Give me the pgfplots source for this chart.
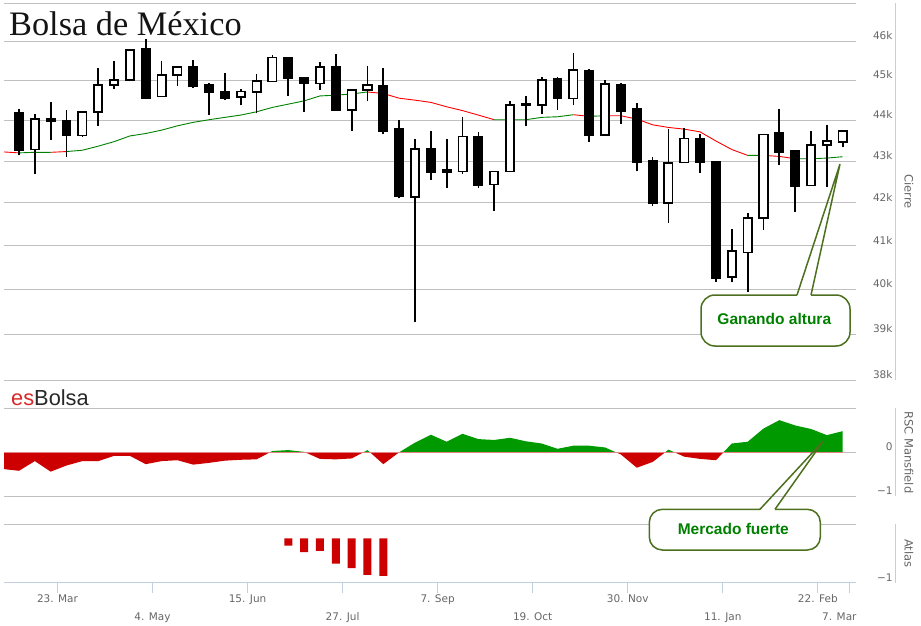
\documentclass[border=0pt]{standalone}
\usepackage{fontspec}
\setmainfont{DejaVu Sans}
\newfontfamily\titlefont{Liberation Serif}
\newfontfamily\arialfont{Liberation Sans}
\usepackage{pgfplots}
\usepackage{pgfplotstable}
\pgfplotsset{compat=1.18}

\definecolor{gridc}{RGB}{192,192,192}
\definecolor{axisc}{RGB}{192,208,224}
\definecolor{labc}{RGB}{102,102,102}
\definecolor{magreen}{RGB}{0,128,0}
\definecolor{mared}{RGB}{255,0,0}
\definecolor{rscgreen}{RGB}{0,153,0}
\definecolor{rscred}{RGB}{204,0,0}
\definecolor{zeroline}{RGB}{226,130,130}
\definecolor{boxc}{RGB}{76,112,30}
\definecolor{txtgreen}{RGB}{0,128,0}
\definecolor{esred}{RGB}{216,40,40}
\definecolor{bolsagray}{RGB}{40,40,40}

% weekly candles: index, open, high, low, close, type (b = falling, w = rising)
\pgfplotstableread{
i o h l c t
0 44200 44282 43140 43257 b
1 43283 44150 42690 44025 w
2 44030 44447 43515 43990 b
3 44000 44250 43100 43640 b
4 43625 44215 43600 44215 w
5 44200 45328 43865 44893 w
6 44876 45491 44794 45018 w
7 45018 45800 44975 45783 w
8 45801 46077 44550 44561 b
9 44596 45491 44590 45137 w
10 45129 45344 44859 45344 w
11 45344 45535 44819 44859 b
12 44893 44943 44132 44695 b
13 44720 45199 44504 44561 b
14 44586 44794 44375 44720 w
15 44710 45173 44174 44993 w
16 44975 45646 44970 45587 w
17 45587 45590 44610 45059 b
18 45059 45060 44215 44918 b
19 44926 45465 44769 45344 w
20 45354 45672 44240 44250 b
21 44250 44780 43740 44769 w
22 44752 45380 44471 44883 w
23 44868 45328 43675 43740 b
24 43800 44000 42110 42157 b
25 42143 43533 39264 43300 w
26 43308 43725 42555 42738 b
27 42780 43533 42348 42730 b
28 42752 44075 42698 43600 w
29 43600 43715 42357 42419 b
30 42436 42752 41814 42752 w
31 42752 44471 42740 44390 w
32 44370 44620 43850 44410 w
33 44382 45092 44150 45007 w
34 45042 45092 44265 44546 b
35 44546 45698 44375 45258 w
36 45258 45302 43467 43633 b
37 43633 45000 43620 44918 w
38 44901 44926 43908 44240 b
39 44280 44425 42752 42967 b
40 43000 43095 41921 42000 b
41 42000 43783 41535 42952 w
42 42967 43800 42960 43550 w
43 43550 43658 42714 42967 b
44 42983 42990 40173 40264 b
45 40286 41395 40159 40877 w
46 40841 41751 39945 41651 w
47 41635 43660 41363 43650 w
48 43683 44283 42895 43225 b
49 43240 43250 41781 42395 b
50 42412 43725 42400 43400 w
51 43390 43883 42381 43500 w
52 43475 43745 43340 43740 w
}\candles

\pgfplotstableread{
i v
17 -0.167
18 -0.309
19 -0.286
20 -0.572
21 -0.669
22 -0.826
23 -0.844
}\atlas

\pgfplotsset{
  panel/.style={
    scale only axis, width=852pt, xmin=-0.947, xmax=52.84,
    axis line style={draw=none},
    ymajorgrids, grid style={draw=gridc, line width=1pt},
    ytick style={draw=none},
    yticklabel pos=right,
    yticklabel style={anchor=east, inner sep=0pt, xshift=36.7pt, yshift=5.5pt,
      font=\fontsize{10.5}{12}\selectfont, text=labc},
    xtick=\empty,
  },
  wick/.style={black, line width=1.7pt},
  bodyb/.style={draw=black, fill=black, line width=1.6pt},
  bodyw/.style={draw=black, fill=white, line width=1.8pt},
}

\begin{document}
\begin{tikzpicture}
\useasboundingbox (0,0) rectangle (921pt,625pt);

% ---------------- price panel (logarithmic price scale) ----------------
\begin{axis}[panel, at={(4pt,244.6pt)}, anchor=south west, height=377.1pt,
  y filter/.expression={1000*ln(y/38000)},
  ymin=0, ymax=212.561,
  ytick={0,25.975,51.293,75.986,100.083,123.614,146.603,169.076,191.055,212.561},
  yticklabels={38k,39k,40k,41k,42k,43k,44k,45k,46k,{}},
  unbounded coords=jump]
% moving average, red parts
\addplot[mared, line width=0.9pt] coordinates {
(-1,43225) (0,43200) (0,nan)
(2,43215) (3,43233) (3,nan)
(22,44710) (23,44670) (24,44553) (25,44504) (26,44447) (27,44337) (28,44243) (29,44131) (30,44015) (30,nan)
(35,44139) (36,44100) (36,nan)
(37,44114) (38,44114) (39,44032) (40,43890) (41,43825) (42,43783) (43,43715) (44,43490) (45,43283) (46,43140) (46,nan)
(47,43140) (48,43115) (49,43058)
};
% moving average, green parts
\addplot[magreen, line width=0.9pt] coordinates {
(0,43200) (1,43215) (2,43215) (2,nan)
(3,43233) (4,43265) (5,43365) (6,43475) (7,43615) (8,43675) (9,43758) (10,43865) (11,43950) (12,44015) (13,44074) (14,44131) (15,44213) (16,44322) (17,44404) (18,44486) (19,44610) (20,44628) (21,44660) (22,44710) (22,nan)
(30,44015) (31,44015) (32,44015) (33,44074) (34,44089) (35,44139) (35,nan)
(36,44100) (37,44114) (37,nan)
(46,43140) (47,43140) (47,nan)
(49,43058) (50,43058) (51,43075) (52,43108)
};
% candles
\pgfplotstablegetrowsof{\candles}
\pgfmathtruncatemacro\lastrow{\pgfplotsretval-1}
\pgfplotsforeachungrouped \rr in {0,...,\lastrow}{%
  \pgfplotstablegetelem{\rr}{i}\of\candles\let\cndI\pgfplotsretval
  \pgfplotstablegetelem{\rr}{o}\of\candles\let\cndO\pgfplotsretval
  \pgfplotstablegetelem{\rr}{h}\of\candles\let\cndH\pgfplotsretval
  \pgfplotstablegetelem{\rr}{l}\of\candles\let\cndL\pgfplotsretval
  \pgfplotstablegetelem{\rr}{c}\of\candles\let\cndC\pgfplotsretval
  \pgfplotstablegetelem{\rr}{t}\of\candles\let\cndT\pgfplotsretval
  \pgfmathsetmacro\cndXl{\cndI-0.26}%
  \pgfmathsetmacro\cndXr{\cndI+0.26}%
  \edef\tmp{\noexpand\addplot[wick] coordinates {(\cndI,\cndL) (\cndI,\cndH)};
    \noexpand\addplot[body\cndT] coordinates {(\cndXl,\cndO) (\cndXr,\cndO) (\cndXr,\cndC) (\cndXl,\cndC)} -- cycle;}%
  \tmp
}
\end{axis}

% ---------------- RSC Mansfield panel ----------------
\begin{axis}[panel, at={(4pt,128.7pt)}, anchor=south west, height=88pt,
  ymin=-1, ymax=1, ytick={-1,0,1}, yticklabels={−1,0,{}}]
\addplot[fill=rscred, draw=none] coordinates {
(-1,0) (-1,-0.38) (0,-0.42) (1,-0.20) (2,-0.44) (3,-0.30) (4,-0.20) (5,-0.20) (6,-0.08) (7,-0.08) (8,-0.27) (9,-0.20) (10,-0.18) (11,-0.28) (12,-0.24) (13,-0.19) (14,-0.17) (15,-0.16) (15.84,0) (18.06,0) (19,-0.15) (20,-0.16) (21,-0.14) (21.74,0) (22.16,0) (23,-0.27) (24,0) (37.69,0) (38,-0.05) (39,-0.35) (40,-0.22) (40.79,0) (41.38,0) (42,-0.10) (43,-0.15) (44,-0.18) (44.47,0) (52,0)
} -- cycle;
\addplot[fill=rscgreen, draw=none] coordinates {
(15.84,0) (16,0.03) (17,0.05) (18,0.01) (18.06,0) (21.74,0) (22,0.05) (22.16,0) (24,0) (25,0.22) (26,0.40) (27,0.24) (28,0.42) (29,0.30) (30,0.28) (31,0.33) (32,0.25) (33,0.20) (34,0.08) (35,0.15) (36,0.15) (37,0.11) (37.69,0) (40.79,0) (41,0.06) (41.38,0) (44.47,0) (45,0.20) (46,0.24) (47,0.54) (48,0.73) (49,0.61) (50,0.53) (51,0.39) (52,0.48) (52,0)
} -- cycle;
\addplot[zeroline, line width=1.2pt] coordinates {(-1,0) (52,0)};
\end{axis}

% ---------------- Atlas panel ----------------
\begin{axis}[panel, at={(4pt,42.3pt)}, anchor=south west, height=58.4pt,
  ymin=-1, ymax=0.315, ytick={-1,0.315}, yticklabels={−1,{}},
  xtick={2.43,14.43,26.43,38.43,50.43},
  xticklabels={23. Mar,15. Jun,7. Sep,30. Nov,22. Feb},
  extra x ticks={8.43,20.43,32.43,44.43,52.43},
  extra x tick labels={4. May,27. Jul,19. Oct,11. Jan,\makebox[0pt][r]{7. Mar\hspace*{-7pt}}},
  extra x tick style={xticklabel style={yshift=-17.4pt}},
  xtick pos=left, tick align=outside, major tick length=10pt,
  xtick style={draw=axisc, line width=1pt},
  yticklabel style={xshift=-10pt},
  xticklabel style={anchor=base, yshift=-10pt, font=\fontsize{10.5}{12}\selectfont, text=labc}]
\addplot[ybar, bar width=8pt, fill=rscred, draw=none] table[x=i, y=v]{\atlas};
\end{axis}

% axis lines on the right and bottom
\draw[axisc, line width=1pt] (895.3pt,621.7pt) -- (895.3pt,244.6pt);
\draw[axisc, line width=1pt] (895.3pt,216.7pt) -- (895.3pt,128.7pt);
\draw[axisc, line width=1pt] (895.3pt,100.7pt) -- (895.3pt,42.3pt);
\draw[axisc, line width=1pt] (4pt,42.3pt) -- (856pt,42.3pt);

% axis titles
\node[rotate=-90, font=\fontsize{11.5}{13}\selectfont, text=labc] at (909pt,433.2pt) {Cierre};
\node[rotate=-90, font=\fontsize{11.5}{13}\selectfont, text=labc] at (909pt,172.7pt) {RSC Mansfield};
\node[rotate=-90, font=\fontsize{11.5}{13}\selectfont, text=labc] at (909pt,71.5pt) {Atlas};

% title and brand
\node[anchor=base west, inner sep=0pt, font=\titlefont\fontsize{34.3}{38}\selectfont, text=black!92] at (9pt,589pt) {Bolsa de México};
\node[anchor=base west, inner sep=0pt, font=\arialfont\fontsize{21.8}{25}\selectfont] at (11pt,219.3pt) {\textcolor{esred}{es}\textcolor{bolsagray}{Bolsa}};

% callouts
\draw[boxc, line width=1.5pt, fill=white, rounded corners=14pt] (811pt,330pt) -- (850pt,330pt) -- (850pt,279pt) -- (701pt,279pt) -- (701pt,330pt) -- (797pt,330pt);
\draw[boxc, line width=1.5pt] (797pt,330pt) -- (840pt,461pt) -- (811pt,330pt);
\node[font=\arialfont\bfseries\fontsize{15.5}{18}\selectfont, text=txtgreen] at (774.3pt,305.7pt) {Ganando altura};

\draw[boxc, line width=1.5pt, fill=white, rounded corners=13pt] (775pt,115.7pt) -- (820.3pt,115.7pt) -- (820.3pt,75pt) -- (649.3pt,75pt) -- (649.3pt,115.7pt) -- (760pt,115.7pt);
\draw[boxc, line width=1.5pt] (760pt,115.7pt) -- (823.3pt,184pt) -- (775pt,115.7pt);
\node[font=\arialfont\bfseries\fontsize{15.5}{18}\selectfont, text=txtgreen] at (733.3pt,95.7pt) {Mercado fuerte};
\end{tikzpicture}
\end{document}
